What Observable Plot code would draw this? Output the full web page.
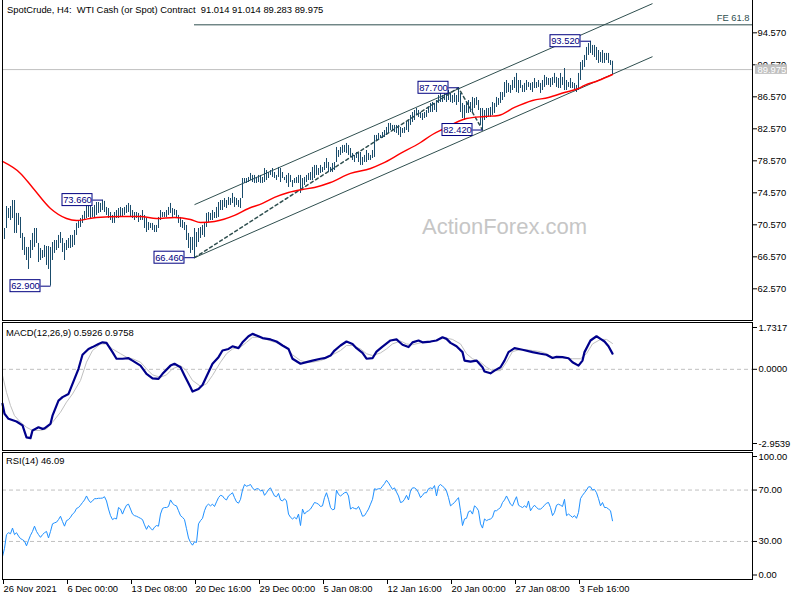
<!DOCTYPE html>
<html><head><meta charset="utf-8">
<script src="https://cdn.jsdelivr.net/npm/d3@7"></script>
<script src="https://cdn.jsdelivr.net/npm/@observablehq/plot@0.6"></script>
<style>
body{margin:0;background:#fff;}
#wrap{position:relative;width:800px;height:600px;overflow:hidden;background:#fff;font-family:"Liberation Sans",Arial,sans-serif;}
#wrap svg{position:absolute;left:0;top:0;}
.frame{position:absolute;box-sizing:border-box;border:1px solid #000;left:2px;width:751px;}
.lbl{position:absolute;font-size:9.4px;line-height:1;color:#000;white-space:pre;}
.wm{position:absolute;font-size:22px;line-height:1;color:#c6c6c6;white-space:pre;}
</style></head><body><div id="wrap"></div>
<script>
// ---------- DATA ----------
const highs = [70.49,70.11,72.86,72.61,72.86,73.61,73.61,71.99,71.99,71.49,
69.49,68.99,67.74,67.74,68.61,69.49,70.11,70.11,68.24,67.61,
67.36,67.99,67.86,67.86,67.74,68.36,68.61,68.61,69.24,69.61,
68.86,68.24,68.61,68.86,69.24,69.24,69.86,70.74,70.99,71.36,
71.74,72.24,72.99,73.5,73.24,72.74,72.99,73.36,73.36,73.24,
73.66,73.5,72.74,72.61,72.11,71.74,72.11,72.36,72.61,72.74,
72.61,72.74,72.99,73.24,72.99,72.36,72.11,72.11,71.99,71.74,
72.36,71.74,71.36,70.86,70.74,70.74,70.49,70.49,71.49,72.36,
72.11,72.11,72.36,72.74,73.24,72.61,72.49,72.36,71.74,71.49,
71.11,70.86,70.49,69.49,68.99,68.99,70.11,69.61,70.11,70.24,
70.49,70.86,71.99,72.11,71.99,72.36,72.11,72.74,73.36,73.61,
73.61,73.86,73.61,73.99,73.86,74.49,73.99,73.86,73.61,73.86,
76.36,76.36,76.36,76.49,76.99,76.74,76.74,76.49,76.74,76.74,
76.49,77.61,77.36,77.11,77.36,77.61,77.11,76.74,77.74,77.61,
77.11,76.49,76.74,76.99,76.74,76.11,76.36,76.49,76.74,76.74,
76.36,76.49,76.74,76.99,77.11,77.74,77.99,77.99,77.61,77.99,
77.74,78.36,78.86,78.36,77.74,78.24,78.36,80.24,79.86,80.24,
80.49,80.49,80.74,80.49,80.11,79.49,79.24,79.61,79.49,79.61,
78.99,79.24,79.86,79.49,79.24,79.86,81.74,81.74,81.99,81.74,
82.11,82.36,82.74,83.24,83.24,82.99,82.99,82.99,82.99,82.74,
82.61,82.74,83.36,83.61,84.24,84.61,84.86,85.11,84.86,84.61,
84.49,84.61,84.86,85.24,85.74,85.86,85.74,86.11,86.74,86.99,
86.74,86.99,87.11,87.36,86.99,86.74,86.99,86.74,87.70,86.99,
85.74,85.49,85.86,86.11,85.86,86.49,86.36,86.49,86.11,85.11,
85.11,84.86,85.11,85.11,85.24,85.86,85.74,86.49,86.36,87.11,
87.11,88.36,88.61,88.24,87.99,88.61,88.99,89.49,88.61,88.61,
87.99,88.24,88.61,88.36,88.24,88.36,88.86,88.36,88.61,88.24,
88.61,89.24,88.99,88.86,88.86,88.99,89.49,88.99,88.86,89.49,
88.99,90.11,88.61,88.36,88.86,88.36,88.24,87.99,89.49,90.86,
91.11,91.74,92.74,93.24,93.52,92.99,92.99,92.74,92.36,92.11,
92.36,91.99,91.99,91.99,91.11,91.014];
const lows = [68.36,68.74,70.11,71.36,71.11,71.36,69.49,69.49,70.49,68.86,
67.36,66.74,66.11,64.99,66.36,67.36,67.74,68.24,65.86,66.11,
66.36,66.49,65.49,64.99,62.90,66.11,66.99,67.36,67.61,68.24,
67.11,66.11,67.36,67.61,67.61,67.74,67.99,69.24,70.11,70.24,
70.74,71.11,71.36,71.49,71.36,71.49,71.36,71.74,71.99,72.11,
72.36,72.11,71.74,71.36,71.11,70.74,70.74,71.36,71.36,71.49,
71.49,71.74,71.99,72.11,71.49,71.36,71.11,71.36,70.86,71.11,
71.11,70.11,69.61,69.86,70.11,69.86,69.61,69.61,70.11,71.11,
71.49,71.49,71.49,71.74,71.99,71.49,71.74,71.36,70.74,70.24,
70.11,69.86,68.61,67.61,66.99,67.36,66.46,67.74,68.36,68.86,
69.24,68.99,70.24,70.86,71.11,71.11,71.36,71.36,71.49,72.36,
72.36,72.74,72.61,72.99,72.99,73.24,72.74,72.99,72.74,72.61,
73.86,75.74,75.74,75.86,76.11,75.86,75.74,75.74,75.86,75.74,
75.74,75.86,76.11,76.36,76.74,76.49,76.36,76.11,76.49,75.86,
76.36,76.11,75.74,75.24,75.86,75.24,75.74,75.74,75.74,74.49,
75.11,75.49,75.86,76.11,76.11,76.11,76.36,76.74,76.74,76.99,
77.11,77.36,77.61,77.11,77.11,77.11,77.36,78.36,78.99,79.24,
79.49,79.61,79.49,79.24,78.99,78.61,78.36,78.86,78.36,77.99,
77.99,78.36,78.36,78.61,78.61,78.86,78.99,81.11,81.11,81.36,
81.36,81.49,81.74,81.99,82.36,82.36,82.11,81.99,81.74,81.49,
81.99,81.99,82.36,82.11,82.99,83.36,83.61,84.24,83.99,83.86,
83.61,83.86,83.99,84.49,84.61,84.61,84.86,84.61,85.74,85.86,
85.86,86.11,85.86,86.11,85.86,85.74,85.86,85.49,85.86,84.61,
83.86,83.61,84.49,84.49,84.61,84.61,85.11,85.49,84.86,82.99,
82.42,83.61,83.86,83.99,83.99,84.24,84.49,85.24,85.49,85.74,
86.11,86.49,86.99,87.11,86.99,87.36,87.61,87.11,86.99,87.61,
87.11,87.11,87.36,87.74,87.36,87.11,87.61,87.61,87.74,86.99,
87.36,87.74,87.99,87.99,87.74,87.99,88.24,87.74,87.61,87.61,
87.99,87.36,87.36,87.74,87.61,87.61,87.36,87.11,87.36,88.61,
89.86,90.24,91.11,91.74,91.99,91.74,91.49,91.11,90.74,90.86,
90.74,90.74,91.11,90.74,90.49,89.283];
// moving average (bar index, price)
const maLine = [[0,78.49],[9,77.0],[15,75.24],[24,72.61],[32,71.36],[37,71.11],[47,71.49],[60,71.61],[69,71.61],[77,71.36],[86,71.49],[94,71.24],[99,70.86],[106,70.99],[116,71.74],[123,72.61],[130,73.24],[136,73.99],[143,74.61],[150,74.99],[156,75.24],[164,75.86],[174,76.99],[184,77.61],[190,78.24],[199,79.49],[209,80.86],[215,81.86],[220,82.49],[232,83.86],[241,84.11],[248,84.24],[256,85.24],[265,86.11],[273,86.49],[281,87.11],[288,87.61],[291,87.99],[298,88.61],[305,89.36]];
const macdMain = [[0,-1.30],[1,-1.68],[3,-1.87],[7,-1.97],[10,-2.12],[12,-2.57],[14,-2.60],[15,-2.31],[18,-2.19],[20,-2.25],[21,-2.23],[24,-2.06],[25,-1.75],[28,-1.18],[30,-1.05],[33,-0.93],[35,-0.55],[38,0.02],[40,0.55],[43,0.77],[45,0.84],[48,0.96],[50,1.02],[52,1.00],[55,0.65],[57,0.40],[60,0.40],[63,0.42],[65,0.33],[69,0.14],[72,-0.17],[75,-0.34],[78,-0.36],[80,-0.17],[84,0.14],[86,0.21],[89,0.08],[91,-0.23],[94,-0.68],[95,-0.84],[98,-0.74],[100,-0.59],[103,-0.11],[105,0.21],[108,0.46],[110,0.71],[113,0.77],[115,0.87],[118,0.80],[120,1.02],[123,1.25],[125,1.34],[128,1.25],[130,1.18],[134,1.13],[137,1.05],[140,0.90],[143,0.77],[145,0.40],[149,0.21],[152,0.27],[155,0.33],[159,0.40],[161,0.42],[164,0.52],[166,0.71],[169,0.90],[172,1.05],[175,0.96],[177,0.80],[180,0.62],[182,0.40],[185,0.42],[187,0.67],[190,0.86],[194,1.09],[197,1.13],[200,0.93],[203,0.84],[205,1.02],[208,1.09],[210,1.02],[214,1.05],[217,1.09],[220,1.21],[222,1.15],[224,1.00],[227,0.87],[230,0.65],[231,0.33],[234,0.29],[237,0.33],[240,0.08],[241,-0.08],[244,-0.15],[246,-0.05],[249,0.08],[251,0.33],[253,0.65],[256,0.80],[260,0.74],[265,0.65],[269,0.59],[272,0.55],[275,0.43],[277,0.47],[280,0.46],[283,0.42],[285,0.27],[288,0.14],[290,0.33],[291,0.65],[294,1.09],[297,1.25],[299,1.15],[301,1.05],[303,0.87],[305,0.5926]];
const macdSignal = [[0,-0.23],[2,-0.87],[4,-1.37],[6,-1.75],[9,-2.00],[12,-2.19],[15,-2.31],[19,-2.31],[22,-2.25],[25,-2.00],[29,-1.62],[32,-1.24],[35,-0.93],[39,-0.42],[42,0.27],[45,0.71],[49,0.96],[52,0.96],[55,0.77],[59,0.59],[62,0.46],[65,0.40],[69,0.27],[72,0.02],[75,-0.21],[79,-0.30],[82,-0.21],[85,0.02],[89,0.14],[92,-0.05],[95,-0.42],[99,-0.64],[102,-0.55],[105,-0.23],[109,0.27],[112,0.59],[115,0.77],[119,0.84],[122,1.02],[125,1.21],[129,1.21],[132,1.13],[135,1.05],[139,0.96],[142,0.84],[145,0.55],[149,0.33],[152,0.27],[155,0.27],[159,0.33],[162,0.42],[165,0.55],[169,0.71],[172,0.90],[175,0.90],[179,0.77],[182,0.59],[185,0.52],[189,0.62],[192,0.77],[195,0.96],[199,1.07],[202,0.96],[205,0.93],[209,1.00],[212,1.02],[215,1.05],[219,1.15],[222,1.18],[225,1.13],[229,0.96],[232,0.59],[235,0.40],[239,0.27],[242,0.08],[245,-0.05],[249,-0.05],[252,0.27],[255,0.67],[259,0.75],[262,0.74],[265,0.71],[269,0.67],[272,0.59],[275,0.46],[279,0.46],[282,0.42],[285,0.40],[289,0.40],[292,0.59],[295,0.96],[299,1.13],[302,1.13],[305,0.9758]];
const rsi = [18.2,24.6,35.3,36.8,36.0,40.4,35.3,36.8,34.2,32.2,
31.4,30.2,26.6,30.9,34.8,37.8,41.9,37.8,35.3,33.2,
35.3,36.8,37.8,32.7,37.8,43.7,44.5,45.0,47.0,49.6,
45.5,41.9,46.2,47.0,48.8,51.3,52.6,55.7,56.4,58.2,
60.3,62.3,65.4,62.3,60.3,61.5,63.3,63.3,63.6,63.6,
63.8,64.8,61.5,55.2,50.1,47.0,48.0,47.5,56.4,55.2,
51.3,55.2,58.2,59.0,55.2,51.3,50.1,49.6,48.8,48.0,
47.0,42.9,39.4,42.4,40.4,38.8,41.1,42.4,41.9,51.3,
55.7,56.4,56.4,57.2,62.3,59.8,58.2,57.7,53.9,50.1,
48.8,47.0,39.9,32.7,29.2,27.1,29.7,29.2,43.7,46.2,
48.0,53.9,57.7,59.0,57.7,59.0,57.2,60.8,64.1,65.9,
65.4,63.3,62.3,65.4,66.6,67.9,64.1,60.8,59.8,62.8,
70.0,74.3,73.0,73.5,74.3,71.7,70.0,71.0,71.0,69.2,
70.0,65.9,67.9,70.5,71.7,68.4,65.4,64.8,67.4,62.3,
61.5,63.3,61.5,51.3,48.8,47.5,48.8,47.5,51.3,42.4,
55.2,51.3,53.1,53.9,55.2,57.7,60.3,59.8,59.0,57.2,
57.7,64.1,67.9,62.8,56.4,54.6,55.2,70.0,66.6,65.4,
66.6,67.9,68.4,65.4,55.2,56.4,55.7,55.2,57.2,53.9,
49.6,50.1,52.6,55.2,59.0,62.8,71.0,70.5,71.0,71.0,
73.0,75.0,77.6,75.6,73.0,70.5,71.7,68.4,65.4,60.3,
60.8,62.8,65.9,62.3,69.2,71.7,71.7,70.5,67.9,64.1,
65.9,67.9,67.9,71.0,71.7,71.0,73.5,65.4,73.0,74.3,
73.0,71.7,69.2,64.1,57.7,59.0,60.3,62.3,64.1,53.9,
42.4,47.5,48.0,53.1,53.9,51.3,57.7,56.4,53.9,43.7,
40.4,47.5,46.2,47.0,47.5,48.8,53.9,53.9,55.2,56.4,
60.3,62.3,65.4,62.3,59.0,57.7,61.5,64.8,58.2,57.2,
56.4,57.7,56.4,61.5,53.9,56.4,58.2,56.4,55.2,55.2,
56.4,58.2,59.8,60.3,56.4,50.1,52.6,58.2,59.0,58.2,
57.2,62.8,50.1,51.3,50.1,48.8,50.1,48.0,52.6,63.3,
65.9,67.9,70.0,72.5,72.5,70.0,70.5,67.9,63.3,57.7,
60.3,56.4,56.4,55.2,53.9,46.09];
const labelIdx = [24, 50, 96, 228, 240, 294];
const labelPrice = [62.90, 73.66, 66.46, 87.70, 82.42, 93.52];
const channelIdx = [96, 325];
const channelUpper = [73.09, 98.22];
const channelLower = [66.46, 91.59];
const zigIdx = [96, 228, 240];
const zigPrice = [66.46, 87.70, 82.42];
const feLevel = 95.57, feStart = 96, feText = "FE 61.8";
const lastPrice = 89.975;
const priceTicks = [62.57, 66.57, 70.57, 74.57, 78.57, 82.57, 86.57, 90.57, 94.57];
const macdTicks = [1.7317, 0, -2.9539];
const rsiTicks = [100, 70, 30, 0];
const dateTicks = [0, 32, 64, 96, 128, 160, 192, 224, 256, 288];
const dateLabels = ["26 Nov 2021","6 Dec 00:00","13 Dec 08:00","20 Dec 16:00","29 Dec 00:00","5 Jan 08:00","12 Jan 16:00","20 Jan 00:00","27 Jan 08:00","3 Feb 16:00"];
const titleText = "SpotCrude, H4:  WTI Cash (or Spot) Contract  91.014 91.014 89.283 89.975";
const macdText = "MACD(12,26,9) 0.5926 0.9758";
const rsiText = "RSI(14) 46.09";

// ---------- BUILD ----------
const wrap = document.getElementById("wrap");
const xEnd = 375;
const xScale = {domain: [0, xEnd], range: [2, 752]};
const common = {width: 800, height: 600, marginLeft: 2, marginRight: 48, marginTop: 0, marginBottom: 20,
  style: {background: "none", fontFamily: "'Liberation Sans', Arial, sans-serif", fontSize: "9.4px", overflow: "visible"}};

const bars = highs.map((h, i) => ({i, high: h, low: lows[i]}));
const ma = maLine.map(([i, p]) => ({i, p}));
const ann = labelIdx.map((i, k) => ({i, p: labelPrice[k]}));
const channels = [
  {x1: channelIdx[0], y1: channelUpper[0], x2: channelIdx[1], y2: channelUpper[1]},
  {x1: channelIdx[0], y1: channelLower[0], x2: channelIdx[1], y2: channelLower[1]}];
const zig = zigIdx.map((i, k) => ({i, p: zigPrice[k]}));
const navy = "#000080", slate = "#2f4f4f";
const yAx = {anchor: "right", tickSize: 4, label: null};

const mainPlot = Plot.plot({...common,
  x: {...xScale, axis: null},
  y: {domain: [58.61, 98.61], range: [320, 0], label: null},
  marks: [
    Plot.ruleY([lastPrice], {x1: 0, x2: xEnd, stroke: "#c0c0c0"}),
    Plot.ruleY([feLevel], {x1: feStart, x2: xEnd, stroke: slate}),
    Plot.text([feLevel], {x: xEnd, y: d => d, text: () => feText, textAnchor: "end", dx: -3, dy: -7, fill: slate}),
    Plot.link(channels, {x1: "x1", y1: "y1", x2: "x2", y2: "y2", stroke: slate}),
    Plot.line(zig, {x: "i", y: "p", stroke: slate, strokeDasharray: "3,3"}),
    Plot.ruleX(bars, {x: "i", y1: "low", y2: "high", stroke: "#1a4c6b"}),
    Plot.line(ma, {x: "i", y: "p", stroke: "#ff0000", strokeWidth: 1.4, curve: "monotone-x"}),
    Plot.link(ann, {x1: d => d.i - 5, x2: d => d.i, y1: "p", y2: "p", stroke: navy}),
    Plot.rect(ann, {x1: d => d.i - 20, x2: d => d.i - 5, y1: d => d.p - 0.75, y2: d => d.p + 0.75, fill: "white", stroke: navy}),
    Plot.text(ann, {x: d => d.i - 12.5, y: "p", text: d => d.p.toFixed(3), fill: navy}),
    Plot.axisY(priceTicks, {...yAx, tickPadding: 1, tickFormat: d => d.toFixed(3)}),
    Plot.rect([lastPrice], {x1: xEnd + 1.5, x2: xEnd + 17.5, y1: d => d - 0.6, y2: d => d + 0.6, fill: "#c0c0c0"}),
    Plot.text([lastPrice], {x: xEnd, y: d => d, dx: 5, text: d => d.toFixed(3), fill: "white", textAnchor: "start"})
  ]});

const toXY = arr => arr.map(([i, v]) => ({i, v}));
const macdPlot = Plot.plot({...common,
  x: {...xScale, axis: null},
  y: {domain: [-2.9539, 1.7317], range: [447, 323], label: null},
  marks: [
    Plot.ruleY([0], {x1: 0, x2: xEnd, stroke: "#c0c0c0", strokeDasharray: "4,3"}),
    Plot.line(toXY(macdSignal), {x: "i", y: "v", stroke: "#c0c0c0", strokeWidth: 1}),
    Plot.line(toXY(macdMain), {x: "i", y: "v", stroke: "#00008b", strokeWidth: 2.2}),
    Plot.axisY([macdTicks[0]], {...yAx, tickPadding: 2, dy: 4, tickFormat: d => d.toFixed(4)}),
    Plot.axisY([macdTicks[1]], {...yAx, tickPadding: 2, tickFormat: d => d.toFixed(4)}),
    Plot.axisY([macdTicks[2]], {...yAx, tickPadding: 2, dy: -4, tickFormat: d => d.toFixed(4)})
  ]});

const labelMap = new Map(dateTicks.map((t, k) => [t, dateLabels[k]]));
const rsiPlot = Plot.plot({...common,
  x: {...xScale, label: null},
  y: {domain: [0, 100], range: [579.5, 451], label: null},
  marks: [
    Plot.ruleY([70, 30], {x1: 0, x2: xEnd, stroke: "#c0c0c0", strokeDasharray: "4,3"}),
    Plot.line(rsi.map((v, i) => ({i, v})), {x: "i", y: "v", stroke: "#1e90ff", strokeWidth: 1}),
    Plot.axisY([rsiTicks[0]], {...yAx, tickPadding: 2, dy: 5, tickFormat: d => d.toFixed(2)}),
    Plot.axisY([rsiTicks[1], rsiTicks[2]], {...yAx, tickPadding: 2, tickFormat: d => d.toFixed(2)}),
    Plot.axisY([rsiTicks[3]], {...yAx, tickPadding: 2, dy: -5, tickFormat: d => d.toFixed(2)}),
    Plot.axisX(dateTicks, {anchor: "bottom", tickSize: 4, tickPadding: 1, textAnchor: "start", dx: 1, label: null, tickFormat: d => labelMap.get(d)})
  ]});

function addDiv(cls, text, left, top, extra) {
  const d = document.createElement("div");
  d.className = cls; if (text) d.textContent = text;
  d.style.left = left + "px"; d.style.top = top + "px";
  if (extra) Object.assign(d.style, extra);
  wrap.appendChild(d); return d;
}
addDiv("wm", "ActionForex.com", 422, 216);
wrap.appendChild(mainPlot);
wrap.appendChild(macdPlot);
wrap.appendChild(rsiPlot);
addDiv("frame", "", 2, -1, {height: "322px"});
addDiv("frame", "", 2, 322, {height: "129px"});
addDiv("frame", "", 2, 452, {height: "128px"});
addDiv("lbl", titleText, 7, 5);
addDiv("lbl", macdText, 6, 328);
addDiv("lbl", rsiText, 6, 456);
</script></body></html>
